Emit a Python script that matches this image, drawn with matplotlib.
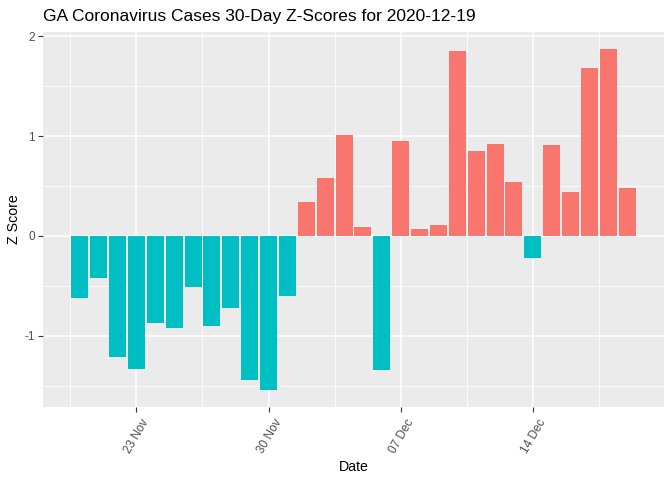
import numpy as np
import pandas as pd
import matplotlib
matplotlib.use("Agg")
import matplotlib.pyplot as plt
import matplotlib.dates as mdates
import matplotlib.transforms as mtransforms

plt.rcParams['font.family'] = ['Liberation Sans', 'DejaVu Sans']
plt.rcParams['axes.unicode_minus'] = False

# 30 days of z-scores
dates = pd.date_range("2020-11-20", "2020-12-19", freq="D")
z_scores = [-0.62, -0.42, -1.21, -1.33, -0.87, -0.92, -0.51, -0.90, -0.72, -1.44,
            -1.54, -0.60, 0.34, 0.58, 1.01, 0.09, -1.34, 0.95, 0.07, 0.11,
            1.85, 0.85, 0.92, 0.54, -0.22, 0.91, 0.44, 1.68, 1.87, 0.48]
tick_dates = pd.to_datetime(["2020-11-23", "2020-11-30", "2020-12-07", "2020-12-14"])
y_ticks = [-1, 0, 1, 2]

df = pd.DataFrame({"Date": dates, "Z": z_scores})
colors = ['#F8766D' if z > 0 else '#00BFC4' for z in df['Z']]

fig = plt.figure(figsize=(6.72, 4.8), dpi=100)
ax = fig.add_axes([43 / 672, 1 - 407 / 480, (664 - 43) / 672, (407 - 32) / 480])
ax.set_facecolor('#EBEBEB')

x = mdates.date2num(df['Date'])
ax.bar(x, df['Z'], width=0.9, color=colors, zorder=3)

# ggplot-like limits (5% expansion)
lo, hi = x.min() - 0.45, x.max() + 0.45
pad = (hi - lo) * 0.05
ax.set_xlim(lo - pad, hi + pad)
ylo, yhi = min(z_scores), max(z_scores)
ypad = (yhi - ylo) * 0.05
ax.set_ylim(ylo - ypad, yhi + ypad)

xt = mdates.date2num(tick_dates)
ax.set_xticks(xt)
ax.set_xticklabels([d.strftime("%d %b") for d in tick_dates])
ax.set_xticks(np.arange(xt[0] - 3.5, xt[-1] + 7, 7), minor=True)
ax.set_yticks(y_ticks)
ax.set_yticks(np.arange(-1.5, 2.5, 1.0), minor=True)

ax.grid(True, which='major', color='white', linewidth=1.1, zorder=0)
ax.grid(True, which='minor', color='white', linewidth=0.6, zorder=0)
for s in ax.spines.values():
    s.set_visible(False)

ax.tick_params(axis='both', which='major', length=3.5, width=0.8, color='#333333',
               labelcolor='#4D4D4D', labelsize=8.5, pad=2.5)
ax.tick_params(axis='both', which='minor', length=0)
shift = mtransforms.ScaledTranslation(5 / 100, -2 / 100, fig.dpi_scale_trans)
for lbl in ax.get_xticklabels():
    lbl.set_rotation(60)
    lbl.set_ha('right')
    lbl.set_va('top')
    lbl.set_rotation_mode('anchor')
    lbl.set_transform(lbl.get_transform() + shift)

ax.set_xlabel("Date", fontsize=10.2, labelpad=3)
ax.set_ylabel("Z Score", fontsize=10.2, labelpad=2)
fig.text(43 / 672, 1 - 17 / 480, "GA Coronavirus Cases 30-Day Z-Scores for 2020-12-19",
         fontsize=12.5, ha='left', va='center')

plt.savefig("out.png", dpi=100)
